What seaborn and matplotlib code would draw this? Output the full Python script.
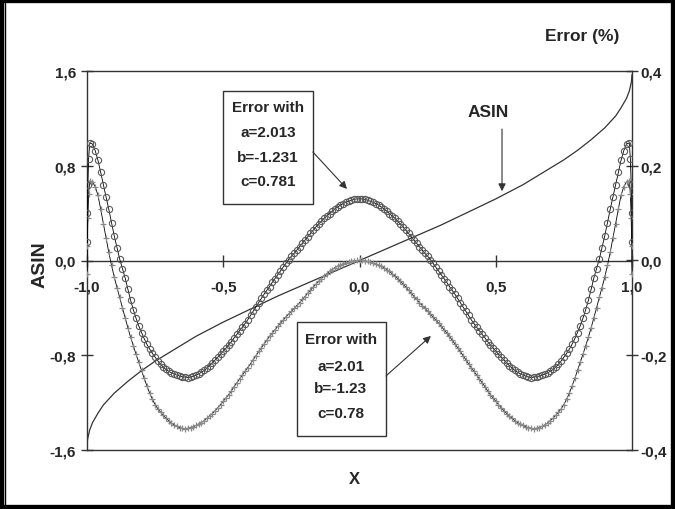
import matplotlib
matplotlib.use("Agg")
import matplotlib.pyplot as plt
from matplotlib.patches import Rectangle
from matplotlib.lines import Line2D
import seaborn as sns
import pandas as pd

# x positions of the error samples (left half, centre, right half)
x_neg = [-1.0, -0.999, -0.997, -0.994, -0.99, -0.98, -0.97, -0.96, -0.95, -0.94,
         -0.93, -0.92, -0.91, -0.9, -0.89, -0.88, -0.87, -0.86, -0.85, -0.84,
         -0.83, -0.82, -0.81, -0.8, -0.79, -0.78, -0.77, -0.76, -0.75, -0.74,
         -0.73, -0.72, -0.71, -0.7, -0.69, -0.68, -0.67, -0.66, -0.65, -0.64,
         -0.63, -0.62, -0.61, -0.6, -0.59, -0.58, -0.57, -0.56, -0.55, -0.54,
         -0.53, -0.52, -0.51, -0.5, -0.49, -0.48, -0.47, -0.46, -0.45, -0.44,
         -0.43, -0.42, -0.41, -0.4, -0.39, -0.38, -0.37, -0.36, -0.35, -0.34,
         -0.33, -0.32, -0.31, -0.3, -0.29, -0.28, -0.27, -0.26, -0.25, -0.24,
         -0.23, -0.22, -0.21, -0.2, -0.19, -0.18, -0.17, -0.16, -0.15, -0.14,
         -0.13, -0.12, -0.11, -0.1, -0.09, -0.08, -0.07, -0.06, -0.05, -0.04,
         -0.03, -0.02, -0.01]
x_mid = [0.0]
x_pos = [0.01, 0.02, 0.03,
         0.04, 0.05, 0.06, 0.07, 0.08, 0.09, 0.1, 0.11, 0.12, 0.13,
         0.14, 0.15, 0.16, 0.17, 0.18, 0.19, 0.2, 0.21, 0.22, 0.23,
         0.24, 0.25, 0.26, 0.27, 0.28, 0.29, 0.3, 0.31, 0.32, 0.33,
         0.34, 0.35, 0.36, 0.37, 0.38, 0.39, 0.4, 0.41, 0.42, 0.43,
         0.44, 0.45, 0.46, 0.47, 0.48, 0.49, 0.5, 0.51, 0.52, 0.53,
         0.54, 0.55, 0.56, 0.57, 0.58, 0.59, 0.6, 0.61, 0.62, 0.63,
         0.64, 0.65, 0.66, 0.67, 0.68, 0.69, 0.7, 0.71, 0.72, 0.73,
         0.74, 0.75, 0.76, 0.77, 0.78, 0.79, 0.8, 0.81, 0.82, 0.83,
         0.84, 0.85, 0.86, 0.87, 0.88, 0.89, 0.9, 0.91, 0.92, 0.93,
         0.94, 0.95, 0.96, 0.97, 0.98, 0.99, 0.994, 0.997, 0.999, 1.0]

# error (%) with a=2.013 b=-1.231 c=0.781  (circles)
circ_neg = [0.040, 0.100, 0.160, 0.215, 0.248, 0.246, 0.232, 0.212, 0.187, 0.160,
            0.134, 0.108, 0.080, 0.052, 0.027, 0.003, -0.017, -0.037, -0.061, -0.084,
            -0.104, -0.122, -0.138, -0.152, -0.165, -0.177, -0.187, -0.196, -0.204, -0.212,
            -0.219, -0.225, -0.230, -0.234, -0.237, -0.240, -0.242, -0.244, -0.245, -0.246,
            -0.247, -0.246, -0.244, -0.242, -0.239, -0.236, -0.232, -0.227, -0.222, -0.216,
            -0.210, -0.204, -0.198, -0.191, -0.185, -0.178, -0.171, -0.163, -0.156, -0.148,
            -0.141, -0.133, -0.125, -0.116, -0.107, -0.098, -0.089, -0.080, -0.071, -0.063,
            -0.055, -0.046, -0.038, -0.030, -0.022, -0.014, -0.006, 0.002, 0.009, 0.015,
            0.022, 0.029, 0.036, 0.043, 0.050, 0.057, 0.064, 0.071, 0.077, 0.083,
            0.089, 0.094, 0.099, 0.104, 0.109, 0.113, 0.117, 0.120, 0.123, 0.125,
            0.127, 0.129, 0.130]
circ_mid = [0.130]
circ_pos = [0.130, 0.129, 0.127,
            0.125, 0.123, 0.120, 0.117, 0.113, 0.109, 0.104, 0.099, 0.094, 0.089,
            0.083, 0.077, 0.071, 0.064, 0.057, 0.050, 0.043, 0.036, 0.029, 0.022,
            0.015, 0.009, 0.002, -0.006, -0.014, -0.022, -0.030, -0.038, -0.046, -0.055,
            -0.063, -0.071, -0.080, -0.089, -0.098, -0.107, -0.116, -0.125, -0.133, -0.141,
            -0.148, -0.156, -0.163, -0.171, -0.178, -0.185, -0.191, -0.198, -0.204, -0.210,
            -0.216, -0.222, -0.227, -0.232, -0.236, -0.239, -0.242, -0.244, -0.246, -0.247,
            -0.246, -0.245, -0.244, -0.242, -0.240, -0.237, -0.234, -0.230, -0.225, -0.219,
            -0.212, -0.204, -0.196, -0.187, -0.177, -0.165, -0.152, -0.138, -0.122, -0.104,
            -0.084, -0.061, -0.037, -0.017, 0.003, 0.027, 0.052, 0.080, 0.108, 0.134,
            0.160, 0.187, 0.212, 0.232, 0.246, 0.248, 0.215, 0.160, 0.100, 0.040]

# error (%) with a=2.01 b=-1.23 c=0.78  (crosses)
cross_neg = [-0.028, 0.030, 0.090, 0.140, 0.168, 0.166, 0.156, 0.138, 0.109, 0.078,
             0.047, 0.017, -0.010, -0.035, -0.057, -0.078, -0.100, -0.121, -0.142, -0.162,
             -0.180, -0.198, -0.215, -0.232, -0.249, -0.265, -0.280, -0.293, -0.304, -0.313,
             -0.320, -0.327, -0.333, -0.338, -0.343, -0.347, -0.350, -0.353, -0.354, -0.355,
             -0.354, -0.353, -0.351, -0.348, -0.345, -0.342, -0.338, -0.333, -0.328, -0.323,
             -0.317, -0.311, -0.304, -0.297, -0.290, -0.283, -0.275, -0.266, -0.258, -0.250,
             -0.242, -0.234, -0.226, -0.218, -0.209, -0.201, -0.192, -0.184, -0.176, -0.168,
             -0.160, -0.153, -0.146, -0.139, -0.132, -0.126, -0.119, -0.113, -0.107, -0.101,
             -0.095, -0.089, -0.082, -0.076, -0.069, -0.063, -0.056, -0.050, -0.044, -0.038,
             -0.033, -0.028, -0.023, -0.019, -0.015, -0.012, -0.009, -0.007, -0.005, -0.003,
             -0.002, -0.001, 0.000]
cross_mid = [0.000]
cross_pos = [0.000, -0.001, -0.002,
             -0.003, -0.005, -0.007, -0.009, -0.012, -0.015, -0.019, -0.023, -0.028, -0.033,
             -0.038, -0.044, -0.050, -0.056, -0.063, -0.069, -0.076, -0.082, -0.089, -0.095,
             -0.101, -0.107, -0.113, -0.119, -0.126, -0.132, -0.139, -0.146, -0.153, -0.160,
             -0.168, -0.176, -0.184, -0.192, -0.201, -0.209, -0.218, -0.226, -0.234, -0.242,
             -0.250, -0.258, -0.266, -0.275, -0.283, -0.290, -0.297, -0.304, -0.311, -0.317,
             -0.323, -0.328, -0.333, -0.338, -0.342, -0.345, -0.348, -0.351, -0.353, -0.354,
             -0.355, -0.354, -0.353, -0.350, -0.347, -0.343, -0.338, -0.333, -0.327, -0.320,
             -0.313, -0.304, -0.293, -0.280, -0.265, -0.249, -0.232, -0.215, -0.198, -0.180,
             -0.162, -0.142, -0.121, -0.100, -0.078, -0.057, -0.035, -0.010, 0.017, 0.047,
             0.078, 0.109, 0.138, 0.156, 0.166, 0.168, 0.140, 0.090, 0.030, -0.028]

# ASIN curve
x_asin = [-1.0, -0.998, -0.99, -0.98, -0.96, -0.94, -0.92, -0.9, -0.85, -0.8,
          -0.75, -0.7, -0.6, -0.5, -0.4, -0.3, -0.2, -0.1, 0.0, 0.1,
          0.2, 0.3, 0.4, 0.5, 0.6, 0.7, 0.75, 0.8, 0.85, 0.9,
          0.92, 0.94, 0.96, 0.98, 0.99, 0.998, 1.0]
asin_vals = [-1.57, -1.51, -1.43, -1.37, -1.29, -1.22, -1.17, -1.12, -1.02, -0.93,
             -0.85, -0.78, -0.64, -0.52, -0.41, -0.30, -0.20, -0.10, 0.0, 0.10,
             0.20, 0.30, 0.41, 0.52, 0.64, 0.78, 0.85, 0.93, 1.02, 1.12,
             1.17, 1.22, 1.29, 1.37, 1.43, 1.51, 1.57]

left_ticks = [-1.6, -0.8, 0.0, 0.8, 1.6]
left_labels = ["-1,6", "-0,8", "0,0", "0,8", "1,6"]
right_ticks = [-0.4, -0.2, 0.0, 0.2, 0.4]
right_labels = ["-0,4", "-0,2", "0,0", "0,2", "0,4"]
x_ticks = [-1.0, -0.5, 0.0, 0.5, 1.0]
x_labels = ["-1,0", "-0,5", "0,0", "0,5", "1,0"]
box1_lines = ["Error with", "a=2.013", "b=-1.231", "c=0.781"]
box2_lines = ["Error with", "a=2.01", "b=-1.23", "c=0.78"]

df_err = pd.DataFrame({"x": x_neg + x_mid + x_pos,
                       "circ": circ_neg + circ_mid + circ_pos,
                       "cross": cross_neg + cross_mid + cross_pos})
df_asin = pd.DataFrame({"x": x_asin, "asin": asin_vals})

sns.set_theme(style="white")
plt.rcParams["font.family"] = ["Liberation Sans", "DejaVu Sans"]
plt.rcParams["font.weight"] = "bold"

fig = plt.figure(figsize=(6.75, 5.1), dpi=100)
ax = fig.add_axes([87 / 675, 1 - 451 / 510, 545 / 675, 379 / 510])
ax2 = ax.twinx()

dark = "#333333"

sns.lineplot(data=df_asin, x="x", y="asin", ax=ax, estimator=None, sort=False,
             color=dark, linewidth=0.9)

sns.lineplot(data=df_err, x="x", y="cross", ax=ax2, estimator=None, sort=False,
             color="black", linewidth=0.6, marker="+", markersize=5,
             markeredgecolor="#8a8a8a", markeredgewidth=0.9)
sns.lineplot(data=df_err, x="x", y="circ", ax=ax2, estimator=None, sort=False,
             color="black", linewidth=0.6, marker="o", markersize=4.5,
             mfc="none", markeredgecolor="#5a5a5a", markeredgewidth=0.8)

ax.set_xlim(-1, 1)
ax.set_ylim(-1.6, 1.6)
ax2.set_ylim(-0.4, 0.4)
ax.set_xlabel("")
ax.set_ylabel("")
ax2.set_ylabel("")

# frame: x axis runs through zero, box around plot
ax.spines["bottom"].set_position(("data", 0))
for sp in ["left", "right", "top", "bottom"]:
    ax.spines[sp].set_color(dark)
    ax.spines[sp].set_linewidth(1)
for sp in ["left", "right", "top"]:
    ax2.spines[sp].set_visible(False)
ax2.spines["bottom"].set_color(dark)
ax2.spines["bottom"].set_linewidth(1)

ax.set_xticks(x_ticks)
ax.set_xticklabels(x_labels)
ax.set_yticks(left_ticks)
ax.set_yticklabels(left_labels)
ax2.set_yticks(right_ticks)
ax2.set_yticklabels(right_labels)

ax.tick_params(axis="x", bottom=True, direction="inout", length=8, width=1,
               color=dark, labelsize=11, pad=10)
ax.tick_params(axis="y", left=True, direction="inout", length=8, width=1,
               color=dark, labelsize=11, pad=4)
ax2.tick_params(axis="y", right=True, direction="inout", length=8, width=1,
                color=dark, labelsize=11, pad=2)
for lab in ax.get_xticklabels() + ax.get_yticklabels() + ax2.get_yticklabels():
    lab.set_fontweight("bold")

# text boxes with arrows (in ASIN axis coordinates)
tr = ax.transData
ax2.add_patch(Rectangle((-0.501, 0.477), 0.330, 0.956, transform=tr,
                        facecolor="white", edgecolor=dark, linewidth=1, zorder=5))
for s, yy in zip(box1_lines, [1.296, 1.085, 0.874, 0.671]):
    ax2.text(-0.336, yy, s, transform=tr, ha="center", va="center",
             fontsize=11, fontweight="bold", zorder=6)

ax2.add_patch(Rectangle((-0.231, -1.482), 0.328, 0.963, transform=tr,
                        facecolor="white", edgecolor=dark, linewidth=1, zorder=5))
for s, yy in zip(box2_lines, [-0.663, -0.891, -1.077, -1.288]):
    ax2.text(-0.068, yy, s, transform=tr, ha="center", va="center",
             fontsize=11, fontweight="bold", zorder=6)

arrow = dict(arrowstyle="-|>", color=dark, lw=0.8, mutation_scale=11,
             shrinkA=0, shrinkB=0)
ax2.annotate("", xy=(-0.046, 0.604), xytext=(-0.171, 0.916),
             xycoords=tr, textcoords=tr, arrowprops=arrow, zorder=6)
ax2.annotate("", xy=(0.262, -0.637), xytext=(0.097, -0.975),
             xycoords=tr, textcoords=tr, arrowprops=arrow, zorder=6)
ax2.annotate("", xy=(0.523, 0.585), xytext=(0.523, 1.11),
             xycoords=tr, textcoords=tr, arrowprops=arrow, zorder=6)
ax2.text(0.472, 1.254, "ASIN", transform=tr, ha="center", va="center",
         fontsize=12.5, fontweight="bold", zorder=6)

fig.text(582 / 675, 1 - 37 / 510, "Error (%)", ha="center", va="center",
         fontsize=12.5, fontweight="bold")
fig.text(40 / 675, 1 - 265 / 510, "ASIN", rotation=90, ha="center", va="center",
         fontsize=14, fontweight="bold")
fig.text(354 / 675, 1 - 480 / 510, "X", ha="center", va="center",
         fontsize=12, fontweight="bold")

# outer black frame
fig.add_artist(Rectangle((0, 0), 1, 1, transform=fig.transFigure, fill=False,
                         edgecolor="black", linewidth=6))
fig.add_artist(Line2D([5 / 675, 5 / 675], [4 / 510, 1 - 4 / 510],
                      transform=fig.transFigure, color="black", linewidth=1))

fig.savefig("out.png", dpi=100)
